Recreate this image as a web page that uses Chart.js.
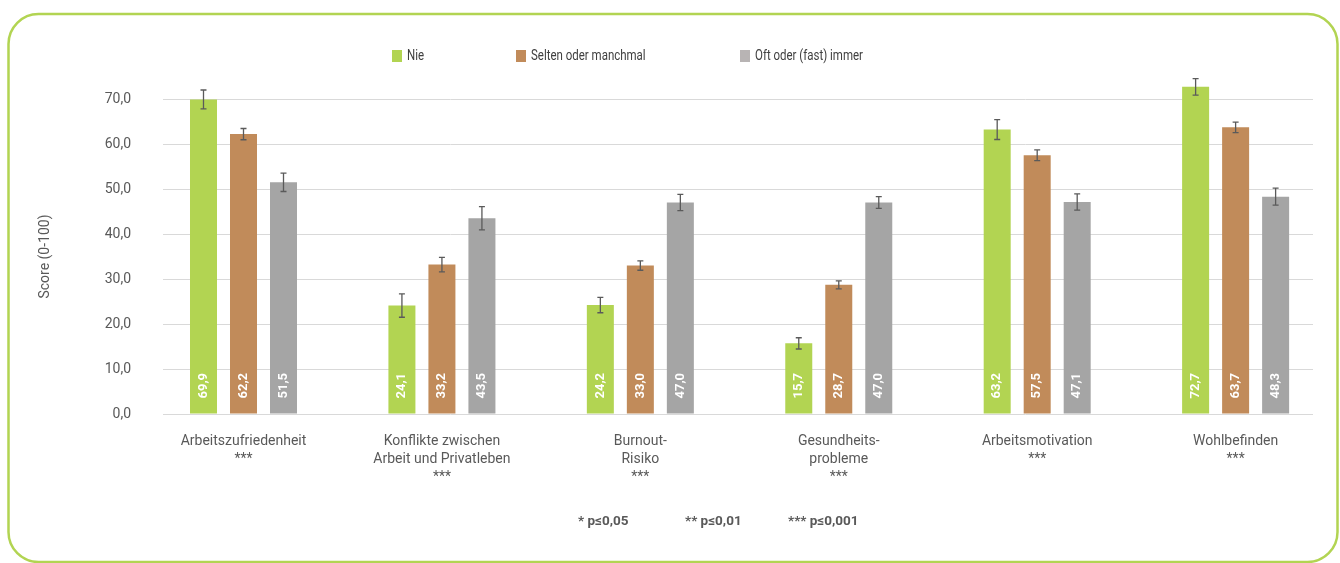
<!DOCTYPE html>
<html><head><meta charset="utf-8">
<script src="https://cdn.jsdelivr.net/npm/chart.js@4.4.1/dist/chart.umd.min.js"></script>
<style>html,body{margin:0;padding:0;background:#fff;}#wrap{position:relative;width:1340px;height:563px;}</style>
</head><body><div id="wrap"><canvas id="c" width="1340" height="563"></canvas></div>
<script>
const categories = [["Arbeitszufriedenheit","***"],["Konflikte zwischen","Arbeit und Privatleben","***"],["Burnout-","Risiko","***"],["Gesundheits-","probleme","***"],["Arbeitsmotivation","***"],["Wohlbefinden","***"]];
const seriesNames = ["Nie","Selten oder manchmal","Oft oder (fast) immer"];
const nieValues = [69.9,24.1,24.2,15.7,63.2,72.7];
const seltenValues = [62.2,33.2,33.0,28.7,57.5,63.7];
const oftValues = [51.5,43.5,47.0,47.0,47.1,48.3];
const nieErrors = [2.1,2.6,1.7,1.25,2.2,1.85];
const seltenErrors = [1.25,1.6,1.05,0.9,1.2,1.15];
const oftErrors = [2.05,2.6,1.8,1.3,1.8,1.9];
const yTicks = [0,10,20,30,40,50,60,70];
const significanceNotes = ["* p≤0,05","** p≤0,01","*** p≤0,001"];

const FONT = "Roboto";
const TEXT = "#595959";
const colors = ["#b2d452","#c18b5a","#a5a5a5"];
const legendColors = ["#b2d452","#c18b5a","#b8b4b4"];
const allValues = [nieValues, seltenValues, oftValues];
const allErrors = [nieErrors, seltenErrors, oftErrors];
const fmt = v => v.toFixed(1).replace('.', ',');

const borderPlugin = {
  id: 'frame',
  beforeDraw(chart) {
    const ctx = chart.ctx;
    ctx.save();
    ctx.strokeStyle = "#b2d452";
    ctx.lineWidth = 2.5;
    ctx.beginPath();
    ctx.roundRect(8.5, 14, 1329, 548, 30);
    ctx.stroke();
    ctx.restore();
  }
};

const errorBarPlugin = {
  id: 'errorBars',
  afterDatasetsDraw(chart) {
    const ctx = chart.ctx;
    const y = chart.scales.y;
    ctx.save();
    ctx.strokeStyle = "#5a5a5a";
    ctx.lineWidth = 1.3;
    chart.data.datasets.forEach((ds, di) => {
      const meta = chart.getDatasetMeta(di);
      meta.data.forEach((bar, i) => {
        const v = ds.data[i].y, e = ds.errors[i];
        const top = y.getPixelForValue(v + e), bot = y.getPixelForValue(v - e);
        ctx.beginPath();
        ctx.moveTo(bar.x, top); ctx.lineTo(bar.x, bot);
        ctx.moveTo(bar.x - 3, top); ctx.lineTo(bar.x + 3, top);
        ctx.moveTo(bar.x - 3, bot); ctx.lineTo(bar.x + 3, bot);
        ctx.stroke();
      });
    });
    ctx.restore();
  }
};

const valueLabelPlugin = {
  id: 'valueLabels',
  afterDatasetsDraw(chart) {
    const ctx = chart.ctx;
    ctx.save();
    ctx.fillStyle = "#ffffff";
    ctx.font = "bold 13px " + FONT;
    ctx.textAlign = "left";
    ctx.textBaseline = "middle";
    chart.data.datasets.forEach((ds, di) => {
      chart.getDatasetMeta(di).data.forEach((bar, i) => {
        ctx.save();
        ctx.translate(bar.x, bar.base - 15);
        ctx.rotate(-Math.PI / 2);
        ctx.fillText(fmt(ds.data[i].y), 0, 0);
        ctx.restore();
      });
    });
    ctx.restore();
  }
};

const legendPlugin = {
  id: 'customLegend',
  afterDraw(chart) {
    const ctx = chart.ctx;
    const xs = [392, 516, 740];
    ctx.save();
    ctx.font = "14px " + FONT;
    ctx.textBaseline = "middle";
    ctx.textAlign = "left";
    chart.data.datasets.forEach((ds, i) => {
      ctx.fillStyle = legendColors[i];
      ctx.fillRect(xs[i], 50, 10, 12);
      ctx.fillStyle = "#404040";
      ctx.save();
      ctx.translate(xs[i] + 15, 56);
      ctx.scale(0.82, 1);
      ctx.fillText(ds.label, 0, 0);
      ctx.restore();
    });
    ctx.restore();
  }
};

const notePlugin = {
  id: 'notes',
  afterDraw(chart) {
    const ctx = chart.ctx;
    const xs = [578, 685, 788];
    ctx.save();
    ctx.font = "bold 13.5px " + FONT;
    ctx.fillStyle = TEXT;
    ctx.textBaseline = "middle";
    ctx.textAlign = "left";
    significanceNotes.forEach((t, i) => ctx.fillText(t, xs[i], 522));
    ctx.restore();
  }
};

new Chart(document.getElementById('c'), {
  type: 'bar',
  data: {
    datasets: seriesNames.map((name, si) => ({
      label: name,
      data: allValues[si].map((v, i) => ({x: i, y: v})),
      errors: allErrors[si],
      backgroundColor: colors[si],
      categoryPercentage: 0.6048,
      barPercentage: 0.675,
      clip: false
    }))
  },
  options: {
    responsive: false,
    animation: false,
    devicePixelRatio: 1,
    layout: {padding: {top: 99, right: 27, left: 0, bottom: 0}},
    plugins: {legend: {display: false}, tooltip: {enabled: false}},
    scales: {
      x: {
        type: 'linear',
        bounds: 'data',
        offset: false,
        min: -0.4057,
        max: 5.39,
        grid: {display: false},
        border: {display: false},
        afterBuildTicks: s => { s.ticks = categories.map((_, i) => ({value: i})); },
        afterFit: s => { s.height = 149; },
        ticks: {
          callback: v => categories[v],
          autoSkip: false, maxRotation: 0,
          includeBounds: false,
          padding: 11,
          color: TEXT,
          font: {family: FONT, size: 14, lineHeight: 1.28}
        }
      },
      y: {
        min: 0, max: 70,
        afterBuildTicks: s => { s.ticks = yTicks.map(v => ({value: v})); },
        afterFit: s => { s.width = 163; },
        grid: {color: "#d9d9d9", lineWidth: 1, drawTicks: false},
        border: {display: false},
        ticks: {
          callback: v => fmt(v),
          padding: 32,
          color: TEXT,
          font: {family: FONT, size: 14}
        },
        title: {
          display: true, text: "Score (0-100)", color: TEXT,
          font: {family: FONT, size: 14},
          padding: {top: 37, bottom: 0}
        }
      }
    }
  },
  plugins: [borderPlugin, errorBarPlugin, valueLabelPlugin, legendPlugin, notePlugin]
});
</script></body></html>
